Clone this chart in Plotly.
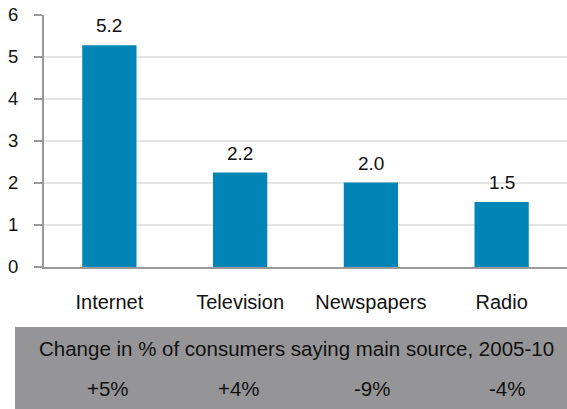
import plotly.graph_objects as go

categories = ["Internet", "Television", "Newspapers", "Radio"]
values = [5.28, 2.25, 2.01, 1.55]
value_labels = ["5.2", "2.2", "2.0", "1.5"]
change_title = "Change in % of consumers saying main source, 2005-10"
change_labels = ["+5%", "+4%", "-9%", "-4%"]
change_x = [108, 239, 372, 507]  # pixel centres of change labels

W, H = 567, 409
L, R, T, B = 44, 0, 15, 142
FONT = "Liberation Sans, Arial, sans-serif"

fig = go.Figure(go.Bar(
    x=categories, y=values,
    marker=dict(color="#0085B6", line=dict(width=0)),
    cliponaxis=False,
))

for c, v, t in zip(categories, values, value_labels):
    fig.add_annotation(x=c, y=v, text=t, showarrow=False, yanchor="bottom",
                       yshift=7, font=dict(size=19, color="#111111", family=FONT))

fig.update_layout(
    width=W, height=H,
    margin=dict(l=L, r=R, t=T, b=B, pad=0),
    paper_bgcolor="white", plot_bgcolor="white",
    bargap=0.585,
    showlegend=False,
    font=dict(family=FONT, size=19, color="#111111"),
    xaxis=dict(showline=True, linecolor="#999999", linewidth=2,
               ticks="", tickfont=dict(size=20), ticklabelstandoff=16),
    yaxis=dict(range=[0, 6], dtick=1, showline=True, linecolor="#999999", linewidth=2,
               ticks="outside", ticklen=8, tickcolor="#999999", tickwidth=2,
               showgrid=True, gridcolor="#E4E4E4", gridwidth=2,
               zeroline=False, tickfont=dict(size=18.5), ticklabelstandoff=12),
)

# grey box below the chart
def px(xp):
    return (xp - L) / (W - L - R)

def py(yp):
    return (H - B - yp) / (H - T - B)

fig.add_shape(type="rect", xref="paper", yref="paper",
              x0=px(15), x1=px(567), y0=py(409), y1=py(327),
              fillcolor="#959597", line=dict(width=0), layer="below")

fig.add_annotation(xref="paper", yref="paper", x=px(296), y=py(348),
                   text=change_title, showarrow=False,
                   font=dict(size=20.5, color="#111111", family=FONT),
                   xanchor="center", yanchor="middle")
for lbl, cx in zip(change_labels, change_x):
    fig.add_annotation(xref="paper", yref="paper", x=px(cx), y=py(388),
                       text=lbl, showarrow=False,
                       font=dict(size=20.5, color="#111111", family=FONT),
                       xanchor="center", yanchor="middle")

fig.write_html("out.html")
